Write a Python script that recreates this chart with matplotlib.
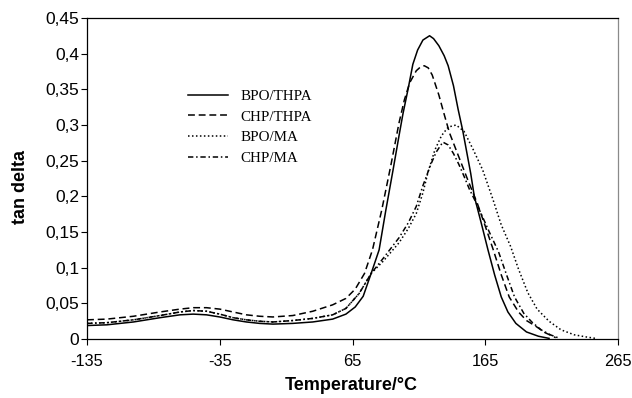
import matplotlib
matplotlib.use('Agg')
import matplotlib.pyplot as plt

# ── datos (tan delta vs temperatura) ──
t_bpo_thpa = [-135, -120, -100, -80, -65, -55, -45, -35, -25, -15, -5, 5, 20, 35, 50, 60, 67, 73, 79,
              85, 90, 95.5, 100, 103, 107, 110.4, 114, 118, 123, 126, 130, 134, 137, 141, 144.5, 148,
              151, 154, 156.7, 162, 167, 172, 177, 182, 188, 196, 205, 213]
td_bpo_thpa = [0.019, 0.020, 0.024, 0.030, 0.034, 0.035, 0.034, 0.031, 0.027, 0.024, 0.022, 0.021,
               0.022, 0.024, 0.028, 0.035, 0.045, 0.060, 0.092, 0.125, 0.180, 0.237, 0.285, 0.316,
               0.352, 0.385, 0.405, 0.419, 0.425, 0.421, 0.411, 0.397, 0.383, 0.355, 0.322, 0.292,
               0.262, 0.232, 0.200, 0.162, 0.125, 0.090, 0.059, 0.038, 0.022, 0.010, 0.004, 0.001]

t_chp_thpa = [-135, -120, -100, -80, -65, -55, -45, -35, -25, -15, -5, 5, 20, 35, 50, 60, 67, 74,
              80, 87, 94, 100, 104, 108, 113, 116, 119, 122, 125, 130, 134, 138, 145.5, 152, 159,
              165, 171, 177, 183, 190, 196, 203, 210, 218]
td_chp_thpa = [0.027, 0.028, 0.032, 0.038, 0.042, 0.044, 0.044, 0.042, 0.038, 0.034, 0.032, 0.031,
               0.033, 0.039, 0.048, 0.057, 0.070, 0.092, 0.125, 0.181, 0.245, 0.303, 0.335, 0.359,
               0.376, 0.381, 0.383, 0.380, 0.370, 0.342, 0.315, 0.289, 0.253, 0.222, 0.190, 0.158,
               0.125, 0.090, 0.059, 0.038, 0.026, 0.018, 0.009, 0.002]

t_bpo_ma = [-135, -120, -100, -80, -65, -55, -45, -35, -25, -15, -5, 5, 20, 35, 50, 60, 70, 79, 88,
            100, 107, 113, 118, 122, 127, 132, 137, 143, 149, 156, 163, 170.5, 177, 184, 190, 197,
            204, 213, 222, 232, 241, 248]
td_bpo_ma = [0.022, 0.023, 0.027, 0.033, 0.038, 0.040, 0.039, 0.035, 0.030, 0.027, 0.025, 0.024,
             0.026, 0.029, 0.034, 0.043, 0.064, 0.092, 0.109, 0.135, 0.155, 0.176, 0.205, 0.235,
             0.265, 0.285, 0.297, 0.300, 0.291, 0.265, 0.237, 0.197, 0.160, 0.130, 0.098, 0.065,
             0.042, 0.025, 0.013, 0.006, 0.003, 0.001]

t_chp_ma = [-135, -120, -100, -80, -65, -55, -45, -35, -25, -15, -5, 5, 20, 35, 50, 60, 70, 79, 88,
            100, 107, 113, 118, 124, 128, 133, 137, 141, 145, 149, 153, 157, 162, 168, 175, 181,
            187, 194, 200, 207, 214, 221]
td_chp_ma = [0.022, 0.023, 0.027, 0.033, 0.038, 0.040, 0.039, 0.035, 0.030, 0.027, 0.025, 0.024,
             0.026, 0.029, 0.034, 0.043, 0.064, 0.092, 0.113, 0.142, 0.163, 0.186, 0.215, 0.245,
             0.262, 0.276, 0.272, 0.260, 0.245, 0.228, 0.210, 0.195, 0.175, 0.150, 0.122, 0.090,
             0.059, 0.036, 0.024, 0.013, 0.006, 0.001]

etiquetas = ['BPO/THPA', 'CHP/THPA', 'BPO/MA', 'CHP/MA']
x_ticks = [-135, -35, 65, 165, 265]
y_ticks = [0, 0.05, 0.1, 0.15, 0.2, 0.25, 0.3, 0.35, 0.4, 0.45]
y_tick_labels = ['0', '0,05', '0,1', '0,15', '0,2', '0,25', '0,3', '0,35', '0,4', '0,45']

fig = plt.figure(figsize=(6.32, 3.98), dpi=100)
ax = fig.add_axes([0.1377, 0.148, 0.8403, 0.807])

lw = 1.1
ax.plot(t_bpo_thpa, td_bpo_thpa, color='black', lw=lw, ls='-', label=etiquetas[0])
ax.plot(t_chp_thpa, td_chp_thpa, color='black', lw=lw, ls=(0, (4.5, 2.5)), label=etiquetas[1])
ax.plot(t_bpo_ma, td_bpo_ma, color='black', lw=lw, ls=(0, (1, 1.6)), label=etiquetas[2])
ax.plot(t_chp_ma, td_chp_ma, color='black', lw=lw, ls=(0, (3.5, 1.8, 1, 1.8)), label=etiquetas[3])

ax.set_xlim(-135, 265)
ax.set_ylim(0, 0.45)
ax.set_xticks(x_ticks)
ax.set_xticklabels([str(v) for v in x_ticks])
ax.set_yticks(y_ticks)
ax.set_yticklabels(y_tick_labels)

for lab in ax.get_xticklabels():
    lab.set_family('Liberation Sans')
    lab.set_fontsize(11.8)
for lab in ax.get_yticklabels():
    lab.set_family('Liberation Sans')
    lab.set_fontsize(12.5)
ax.tick_params(axis='x', direction='out', length=4, width=0.8, pad=7)
ax.tick_params(axis='y', direction='out', length=4, width=0.8, pad=1.5)

for s in ['left', 'bottom', 'top']:
    ax.spines[s].set_color('black')
    ax.spines[s].set_linewidth(0.9)
ax.spines['right'].set_color('#8a8a8a')
ax.spines['right'].set_linewidth(0.9)

leg = ax.legend(loc='upper left', bbox_to_anchor=(0.19, 0.777), frameon=False,
                borderaxespad=0, borderpad=0, handlelength=2.7, handletextpad=0.8,
                labelspacing=0.48, prop={'family': 'Liberation Serif', 'size': 10.8})

fig.text(0.555, 0.02, 'Temperature/°C', ha='center', va='baseline',
         family='Liberation Sans', fontweight='bold', fontsize=13)
fig.text(0.033, 0.53, 'tan delta', ha='center', va='center', rotation=90,
         family='Liberation Sans', fontweight='bold', fontsize=13)

fig.savefig('out.png', dpi=100, facecolor='white')
